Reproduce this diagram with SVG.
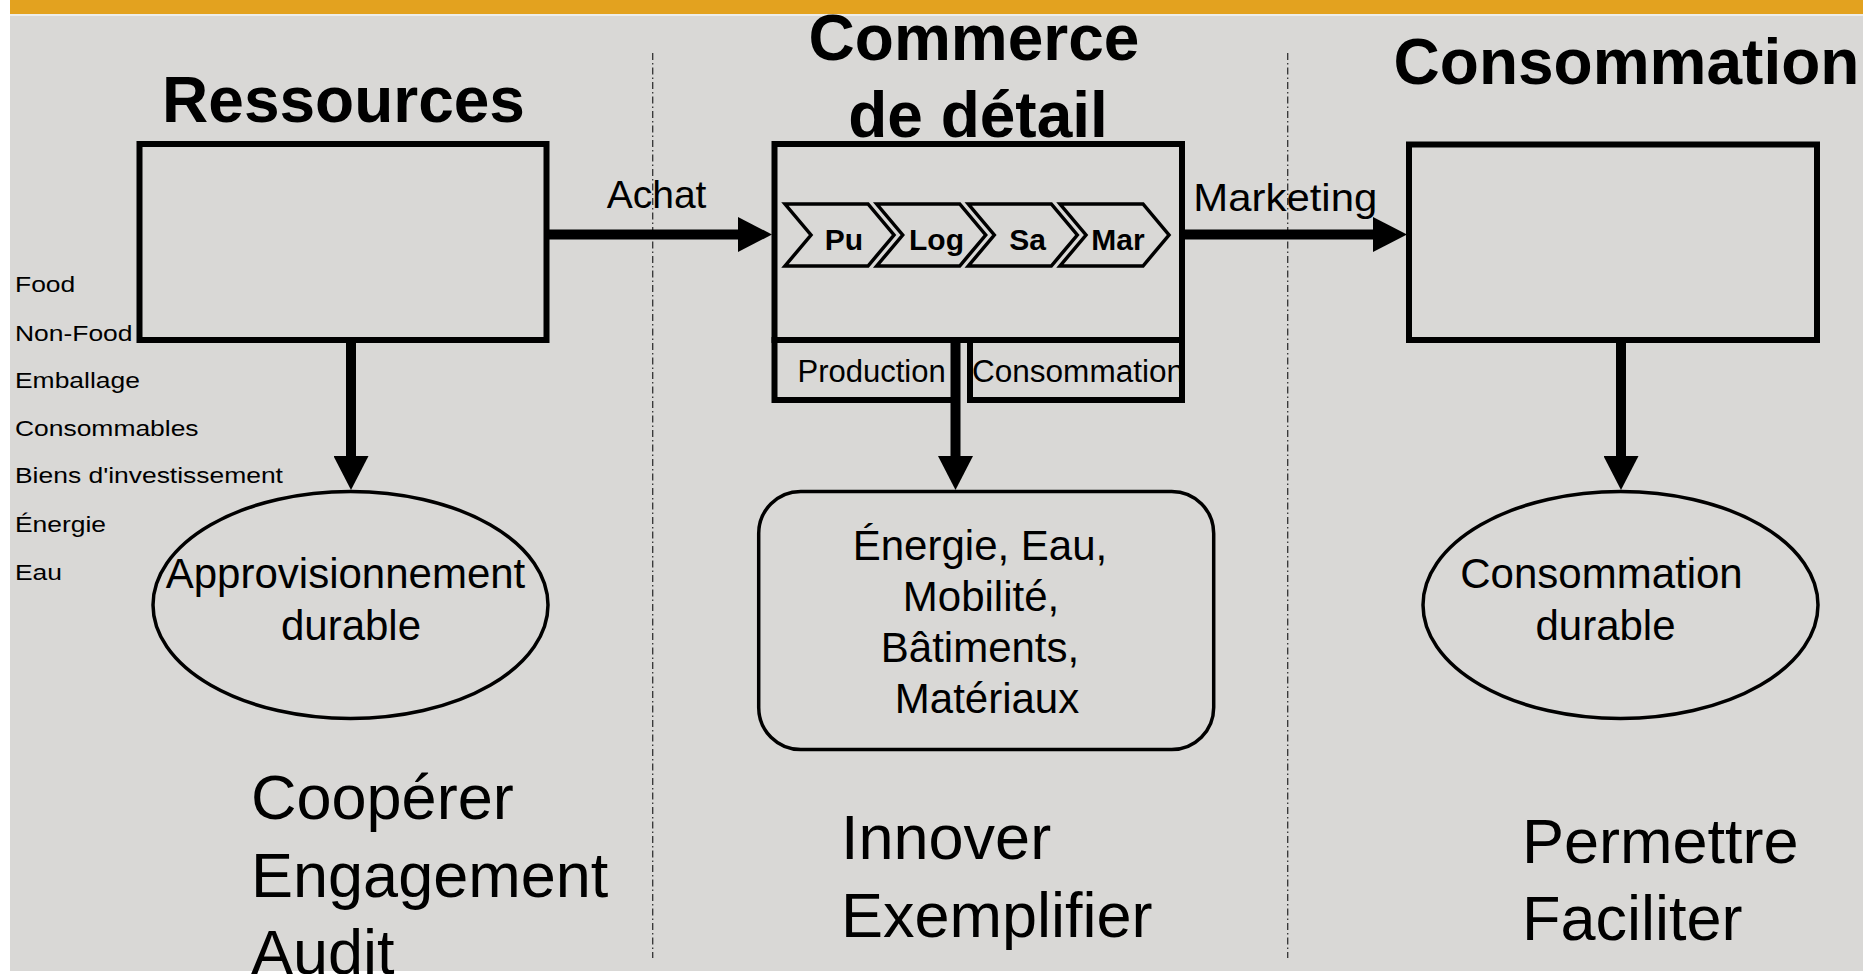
<svg xmlns="http://www.w3.org/2000/svg" width="1863" height="974" viewBox="0 0 1863 974">
<defs>
<style>
.txt{font-family:"Liberation Sans",Arial,sans-serif;fill:#000}
.title{font-weight:bold;font-size:64px;text-anchor:middle}
.big{font-size:63px}
.mid{font-size:42px;text-anchor:middle}
.lbl{font-size:39px}
.sub{font-size:31px}
.chev-t{font-weight:bold;font-size:30px;text-anchor:middle}
.list{font-size:21.5px}
.box{fill:none;stroke:#000;stroke-width:6}
.thin{fill:none;stroke:#000;stroke-width:3.5}
.chev{fill:none;stroke:#000;stroke-width:3.5;stroke-linejoin:miter}
.conn{stroke:#000;stroke-width:10;fill:none;marker-end:url(#head)}
.div{stroke:#333;stroke-width:1.3;stroke-dasharray:7 3 1.5 3}
</style>
<marker id="head" viewBox="0 0 34 35" markerUnits="strokeWidth" markerWidth="3.4" markerHeight="3.5" refX="1" refY="17.5" orient="auto">
<path d="M0,0 L34,17.5 L0,35 Z" fill="#000"/>
</marker>
</defs>
<rect x="0" y="0" width="1863" height="974" fill="#ffffff"/>
<rect x="10" y="14" width="1853" height="957" fill="#D9D8D6"/>
<rect x="10" y="0" width="1853" height="14" fill="#E3A21F"/>
<rect x="10" y="14" width="1853" height="2" fill="#EDEDEB"/>

<g id="dividers">
<line class="div" x1="652.7" y1="53" x2="652.7" y2="958"/>
<line class="div" x1="1287.7" y1="53" x2="1287.7" y2="958"/>
</g>

<g id="ressources">
<text class="txt title" x="343.5" y="122">Ressources</text>
<rect class="box" x="139.5" y="144" width="407" height="196"/>
</g>

<g id="commerce">
<text class="txt title" x="974" y="60">Commerce</text>
<text class="txt title" x="978" y="137">de détail</text>
<rect class="box" x="774.5" y="144" width="407.5" height="196"/>
<polygon class="chev" points="785,204 868,204 894,235 868,266 785,266 811,235"/>
<polygon class="chev" points="876.7,204 959.7,204 985.7,235 959.7,266 876.7,266 902.7,235"/>
<polygon class="chev" points="968.3,204 1051.3,204 1077.3,235 1051.3,266 968.3,266 994.3,235"/>
<polygon class="chev" points="1060,204 1143,204 1169,235 1143,266 1060,266 1086,235"/>
<text class="txt chev-t" x="844" y="250">Pu</text>
<text class="txt chev-t" x="936.5" y="250">Log</text>
<text class="txt chev-t" x="1027.5" y="250">Sa</text>
<text class="txt chev-t" x="1118" y="250">Mar</text>
</g>

<g id="production">
<text class="txt sub" x="797.5" y="381.7">Production</text>
<rect class="box" x="774.5" y="340" width="180.5" height="60"/>
</g>

<g id="consommation-sub">
<text class="txt sub" x="972" y="381.7" textLength="212" lengthAdjust="spacingAndGlyphs">Consommation</text>
<rect class="box" x="970" y="340" width="212" height="60"/>
</g>

<g id="consommation">
<text class="txt title" x="1626.5" y="84">Consommation</text>
<rect class="box" x="1409" y="144.5" width="408" height="195.5"/>
</g>

<g id="liste">
<g transform="translate(15,0) scale(1.23,1)">
<text class="txt list" x="0" y="292.3">Food</text>
<text class="txt list" x="0" y="341">Non-Food</text>
<text class="txt list" x="0" y="388.5">Emballage</text>
<text class="txt list" x="0" y="436">Consommables</text>
<text class="txt list" x="0" y="483.5">Biens d'investissement</text>
<text class="txt list" x="0" y="531.7">Énergie</text>
<text class="txt list" x="0" y="580.5">Eau</text>
</g>
</g>

<g id="approvisionnement">
<ellipse class="thin" cx="350.5" cy="605" rx="197.5" ry="113.5"/>
<text class="txt mid" x="345.5" y="588">Approvisionnement</text>
<text class="txt mid" x="351" y="639.5">durable</text>
</g>

<g id="ressources-internes">
<rect class="thin" x="758.7" y="491.5" width="455" height="258" rx="42" ry="42"/>
<text class="txt mid" x="980" y="560">Énergie, Eau,</text>
<text class="txt mid" x="981" y="611">Mobilité,</text>
<text class="txt mid" x="980" y="662">Bâtiments,</text>
<text class="txt mid" x="987" y="713">Matériaux</text>
</g>

<g id="consommation-durable">
<ellipse class="thin" cx="1620.5" cy="605" rx="197.5" ry="113.5"/>
<text class="txt mid" x="1601.5" y="588.3">Consommation</text>
<text class="txt mid" x="1605.5" y="639.5">durable</text>
</g>

<g id="connectors">
<line class="conn" x1="549" y1="234.5" x2="739" y2="234.5"/>
<line class="conn" x1="1185" y1="234.5" x2="1374" y2="234.5"/>
<line class="conn" x1="351" y1="342" x2="351" y2="457"/>
<line class="conn" x1="955.5" y1="340" x2="955.5" y2="457"/>
<line class="conn" x1="1621" y1="342" x2="1621" y2="457"/>
<text class="txt lbl" x="606.7" y="207.7">Achat</text>
<text class="txt lbl" x="1193.3" y="211" textLength="184" lengthAdjust="spacingAndGlyphs">Marketing</text>
</g>

<g id="actions">
<text class="txt big" x="251" y="819.3">Coopérer</text>
<text class="txt big" x="251" y="896.7">Engagement</text>
<text class="txt big" x="251" y="974">Audit</text>
<text class="txt big" x="841" y="859">Innover</text>
<text class="txt big" x="841" y="937">Exemplifier</text>
<text class="txt big" x="1522" y="863">Permettre</text>
<text class="txt big" x="1522" y="940">Faciliter</text>
</g>
</svg>
